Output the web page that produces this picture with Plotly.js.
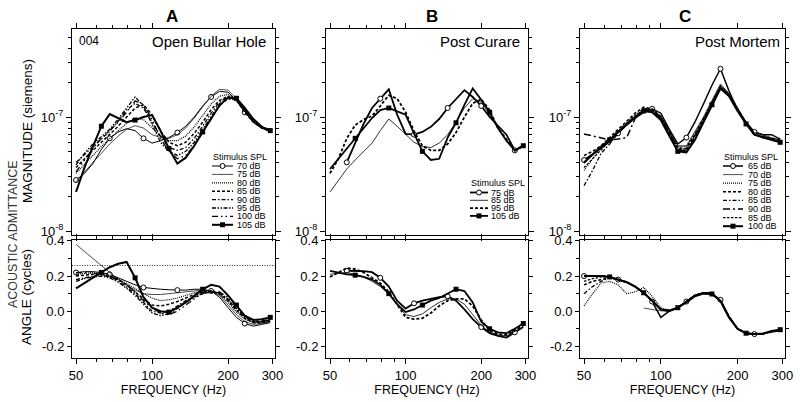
<!DOCTYPE html>
<html><head><meta charset="utf-8">
<script src="https://cdn.plot.ly/plotly-3.0.1.min.js"></script>
<style>html,body{margin:0;padding:0;background:#fff}#chart{width:800px;height:402px}</style>
</head><body><div id="chart"></div>
<script>
// ---------- shared axis data ----------
const freqHz = [50,54,58.3,63,68,73.5,79.3,85.7,92.5,100,108,116.6,126,136,147,158.7,171.4,185,200,216,233,252,272,294];
const xTickVals = [50,100,200,300];
const xTickText = ['50','100','200','300'];
const xMinorVals = [60,70,80,90];
const magTickVals = [1e-8,1e-7];
const magTickText = ['10<sup>-8</sup>','10<sup>-7</sup>'];
const magMinorVals = [2e-8,3e-8,4e-8,5e-8,6e-8,7e-8,8e-8,9e-8,2e-7,3e-7,4e-7,5e-7];
const angTickVals = [-0.2,0,0.2,0.4];
const angTickText = ['-0.2','0.0','0.2','0.4'];
const angMinorVals = [-0.1,0.1,0.3];
const refAngleA = 0.26;

// ---------- panel A : Open Bullar Hole ----------
const labelsA = ['70 dB','75 dB','80 dB','85 dB','90 dB','95 dB','100 dB','105 dB'];
const magA70  = [2.8e-8,3.2e-8,3.9e-8,5.2e-8,6.5e-8,7.4e-8,7.9e-8,7.6e-8,6.5e-8,5.9e-8,6.2e-8,6.6e-8,7.3e-8,8.3e-8,10.0e-8,12.5e-8,15.0e-8,16.8e-8,16.5e-8,14.0e-8,11.0e-8,9.0e-8,8.0e-8,7.6e-8];
const magA75  = [2.7e-8,3.3e-8,4.0e-8,4.8e-8,5.8e-8,6.8e-8,7.8e-8,8.4e-8,8.0e-8,7.0e-8,6.6e-8,6.5e-8,7.0e-8,8.0e-8,9.8e-8,12.3e-8,15.2e-8,17.5e-8,17.2e-8,14.5e-8,11.5e-8,9.3e-8,8.2e-8,7.8e-8];
const magA80  = [3.2e-8,3.8e-8,4.6e-8,5.5e-8,6.5e-8,7.6e-8,8.8e-8,9.8e-8,9.5e-8,8.0e-8,6.8e-8,6.2e-8,6.2e-8,6.8e-8,8.2e-8,10.3e-8,13.0e-8,15.2e-8,15.8e-8,14.0e-8,11.2e-8,9.2e-8,8.0e-8,7.7e-8];
const magA85  = [3.6e-8,4.3e-8,5.1e-8,6.0e-8,7.0e-8,8.3e-8,10.0e-8,12.0e-8,12.8e-8,10.5e-8,7.6e-8,6.0e-8,5.6e-8,6.0e-8,7.2e-8,9.0e-8,11.6e-8,14.0e-8,15.2e-8,14.0e-8,11.0e-8,9.0e-8,8.0e-8,7.6e-8];
const magA90  = [4.0e-8,4.7e-8,5.5e-8,6.4e-8,7.5e-8,9.2e-8,11.5e-8,13.2e-8,12.0e-8,9.0e-8,6.8e-8,5.4e-8,5.1e-8,5.4e-8,6.5e-8,8.3e-8,10.8e-8,13.5e-8,15.0e-8,14.2e-8,11.3e-8,9.0e-8,8.0e-8,7.5e-8];
const magA95  = [3.8e-8,4.8e-8,5.8e-8,6.8e-8,7.8e-8,9.6e-8,12.0e-8,15.0e-8,12.5e-8,8.5e-8,6.0e-8,5.0e-8,4.6e-8,5.0e-8,6.0e-8,7.8e-8,10.2e-8,13.0e-8,14.6e-8,14.0e-8,11.4e-8,9.2e-8,8.0e-8,7.5e-8];
const magA100 = [3.3e-8,4.2e-8,5.3e-8,6.5e-8,7.6e-8,9.0e-8,11.0e-8,13.8e-8,13.0e-8,9.5e-8,6.5e-8,5.0e-8,4.3e-8,4.6e-8,5.6e-8,7.4e-8,9.8e-8,12.6e-8,14.4e-8,14.2e-8,11.8e-8,9.5e-8,8.2e-8,7.7e-8];
const magA105 = [2.2e-8,3.6e-8,5.5e-8,8.3e-8,10.6e-8,9.8e-8,9.0e-8,9.4e-8,10.0e-8,10.4e-8,7.6e-8,5.3e-8,3.9e-8,4.4e-8,5.6e-8,7.4e-8,9.8e-8,12.6e-8,14.8e-8,14.6e-8,12.0e-8,9.6e-8,8.2e-8,7.6e-8];
const angA70  = [0.22,0.225,0.225,0.22,0.21,0.19,0.17,0.15,0.135,0.128,0.125,0.122,0.12,0.12,0.125,0.125,0.115,0.08,0.02,-0.035,-0.07,-0.085,-0.075,-0.065];
const angA75  = [0.38,0.34,0.30,0.26,0.22,0.18,0.15,0.12,0.10,0.095,0.095,0.10,0.105,0.11,0.115,0.12,0.115,0.09,0.035,-0.02,-0.06,-0.075,-0.07,-0.06];
const angA80  = [0.21,0.215,0.22,0.215,0.205,0.185,0.16,0.13,0.10,0.075,0.06,0.065,0.075,0.09,0.105,0.115,0.115,0.095,0.05,-0.005,-0.045,-0.065,-0.065,-0.055];
const angA85  = [0.20,0.205,0.21,0.21,0.20,0.18,0.15,0.11,0.07,0.035,0.03,0.04,0.055,0.075,0.095,0.11,0.115,0.10,0.06,0.005,-0.04,-0.065,-0.065,-0.055];
const angA90  = [0.18,0.19,0.20,0.205,0.195,0.175,0.14,0.10,0.05,0.0,-0.01,0.0,0.03,0.06,0.085,0.105,0.11,0.10,0.065,0.01,-0.035,-0.06,-0.06,-0.05];
const angA95  = [0.17,0.185,0.195,0.20,0.19,0.165,0.13,0.09,0.04,-0.01,-0.025,-0.015,0.015,0.05,0.08,0.10,0.11,0.105,0.07,0.015,-0.03,-0.06,-0.06,-0.05];
const angA100 = [0.22,0.22,0.215,0.21,0.20,0.18,0.15,0.11,0.06,0.02,-0.01,-0.02,0.0,0.035,0.07,0.10,0.115,0.11,0.08,0.025,-0.025,-0.055,-0.055,-0.045];
const angA105 = [0.13,0.16,0.19,0.22,0.25,0.27,0.28,0.19,0.08,0.02,0.0,-0.005,0.02,0.05,0.09,0.125,0.15,0.14,0.09,0.035,-0.025,-0.05,-0.045,-0.035];

// ---------- panel B : Post Curare ----------
const labelsB = ['75 dB','85 dB','95 dB','105 dB'];
const magB75  = [null,null,4.0e-8,6.0e-8,8.7e-8,12.0e-8,14.5e-8,17.5e-8,10.5e-8,7.1e-8,7.0e-8,7.4e-8,8.2e-8,9.6e-8,12.0e-8,14.5e-8,17.2e-8,15.0e-8,12.5e-8,10.0e-8,8.4e-8,7.0e-8,5.1e-8,5.6e-8];
const magB85  = [2.2e-8,2.8e-8,3.5e-8,4.2e-8,5.0e-8,5.9e-8,7.6e-8,9.6e-8,8.3e-8,7.0e-8,6.0e-8,5.5e-8,5.4e-8,5.9e-8,7.0e-8,9.0e-8,12.0e-8,14.5e-8,13.5e-8,10.5e-8,8.0e-8,6.2e-8,5.0e-8,5.5e-8];
const magB95  = [3.2e-8,4.3e-8,6.5e-8,8.5e-8,9.5e-8,10.2e-8,12.5e-8,15.5e-8,14.5e-8,11.0e-8,7.5e-8,5.6e-8,5.1e-8,5.1e-8,5.8e-8,7.3e-8,10.0e-8,13.2e-8,14.3e-8,11.5e-8,8.0e-8,6.4e-8,5.1e-8,5.6e-8];
const magB105 = [3.5e-8,4.3e-8,5.3e-8,6.5e-8,8.0e-8,9.8e-8,11.5e-8,12.0e-8,11.2e-8,10.5e-8,7.2e-8,5.0e-8,4.2e-8,4.3e-8,6.6e-8,8.9e-8,12.8e-8,17.8e-8,14.2e-8,11.0e-8,8.0e-8,6.2e-8,5.1e-8,5.6e-8];
const angB75  = [null,null,0.23,0.23,0.228,0.222,0.19,0.14,0.06,0.015,0.045,0.06,0.07,0.08,0.085,0.06,0.01,-0.045,-0.09,-0.125,-0.14,-0.15,-0.12,-0.09];
const angB85  = [0.21,0.215,0.22,0.21,0.195,0.17,0.14,0.10,0.04,-0.02,-0.03,-0.015,0.02,0.05,0.07,0.07,0.04,-0.02,-0.08,-0.12,-0.135,-0.14,-0.115,-0.09];
const angB95  = [0.195,0.22,0.245,0.24,0.22,0.19,0.16,0.11,0.04,-0.035,-0.045,-0.04,-0.01,0.03,0.06,0.07,0.07,0.03,-0.05,-0.11,-0.13,-0.135,-0.11,-0.08];
const angB105 = [0.23,0.22,0.21,0.205,0.195,0.18,0.15,0.10,0.04,-0.005,0.01,0.035,0.06,0.075,0.10,0.125,0.115,0.05,-0.06,-0.10,-0.12,-0.125,-0.10,-0.07];

// ---------- panel C : Post Mortem ----------
const labelsC = ['65 dB','70 dB','75 dB','80 dB','85 dB','90 dB','85 dB','100 dB'];
const magC65  = [4.2e-8,4.7e-8,5.3e-8,6.1e-8,7.2e-8,8.5e-8,9.8e-8,11.0e-8,11.8e-8,10.8e-8,7.8e-8,5.8e-8,6.6e-8,9.0e-8,13.0e-8,19.0e-8,26.5e-8,17.0e-8,11.5e-8,9.0e-8,7.4e-8,7.0e-8,7.0e-8,6.4e-8];
const magC70  = [3.9e-8,4.6e-8,5.4e-8,6.2e-8,7.3e-8,8.6e-8,10.0e-8,11.5e-8,11.5e-8,10.2e-8,7.6e-8,5.6e-8,5.6e-8,7.4e-8,10.0e-8,14.0e-8,19.5e-8,16.0e-8,11.8e-8,9.0e-8,7.3e-8,6.9e-8,6.6e-8,6.3e-8];
const magC75  = [3.4e-8,4.3e-8,5.4e-8,6.3e-8,7.6e-8,9.0e-8,10.4e-8,11.8e-8,11.6e-8,10.0e-8,7.4e-8,5.5e-8,5.5e-8,7.2e-8,9.8e-8,13.8e-8,19.0e-8,16.0e-8,11.8e-8,9.0e-8,7.2e-8,6.8e-8,6.5e-8,6.3e-8];
const magC80  = [4.6e-8,5.0e-8,5.6e-8,6.6e-8,7.9e-8,9.3e-8,10.8e-8,12.2e-8,11.8e-8,10.0e-8,7.2e-8,5.3e-8,5.3e-8,7.0e-8,9.6e-8,13.5e-8,18.5e-8,15.8e-8,11.6e-8,8.8e-8,7.0e-8,6.7e-8,6.4e-8,6.2e-8];
const magC85  = [2.5e-8,3.4e-8,4.8e-8,5.8e-8,7.2e-8,8.6e-8,10.0e-8,11.6e-8,11.2e-8,9.6e-8,7.0e-8,5.2e-8,5.1e-8,6.8e-8,9.4e-8,13.2e-8,18.3e-8,15.6e-8,11.5e-8,8.8e-8,7.0e-8,6.6e-8,6.3e-8,6.1e-8];
const magC90  = [7.1e-8,6.8e-8,6.5e-8,6.3e-8,6.4e-8,6.6e-8,9.7e-8,11.8e-8,11.5e-8,9.8e-8,7.2e-8,5.2e-8,5.0e-8,6.6e-8,9.2e-8,13.0e-8,18.0e-8,15.5e-8,11.5e-8,8.8e-8,7.0e-8,6.7e-8,6.4e-8,6.1e-8];
const magC95  = [3.6e-8,4.3e-8,5.2e-8,6.2e-8,7.4e-8,8.8e-8,10.2e-8,11.7e-8,11.6e-8,10.0e-8,7.3e-8,5.4e-8,5.2e-8,6.9e-8,9.5e-8,13.3e-8,18.4e-8,15.7e-8,11.6e-8,8.8e-8,7.0e-8,6.7e-8,6.4e-8,6.2e-8];
const magC100 = [4.0e-8,4.7e-8,5.5e-8,6.3e-8,7.4e-8,8.7e-8,10.0e-8,11.3e-8,11.0e-8,9.4e-8,6.8e-8,5.0e-8,4.9e-8,6.3e-8,9.0e-8,12.8e-8,17.8e-8,15.3e-8,11.3e-8,8.7e-8,7.0e-8,6.6e-8,6.3e-8,6.0e-8];
const angC65  = [0.2,0.2,0.2,0.195,0.18,0.165,0.14,0.105,0.055,-0.035,0.0,0.02,0.055,0.09,0.105,0.1,0.065,-0.03,-0.1,-0.125,-0.13,-0.128,-0.118,-0.11];
const angC70  = [null,null,null,null,null,null,null,0.018,0.01,0.002,0.0,0.02,0.055,0.09,0.105,0.1,0.06,-0.03,-0.1,-0.125,-0.13,-0.128,-0.115,-0.105];
const angC75  = [0.03,0.1,0.16,0.17,0.15,0.1,0.11,0.135,0.085,0.02,0.0,0.02,0.055,0.09,0.105,0.1,0.06,-0.03,-0.1,-0.125,-0.13,-0.128,-0.115,-0.105];
const angC80  = [0.15,0.17,0.18,0.19,0.18,0.165,0.14,0.105,0.06,0.01,0.0,0.02,0.055,0.09,0.105,0.1,0.06,-0.03,-0.1,-0.125,-0.13,-0.128,-0.115,-0.105];
const angC85  = [0.1,0.14,0.17,0.19,0.18,0.165,0.14,0.105,0.06,0.01,0.0,0.02,0.055,0.09,0.105,0.1,0.06,-0.03,-0.1,-0.125,-0.13,-0.128,-0.115,-0.105];
const angC90  = [0.2,0.2,0.2,0.195,0.18,0.165,0.14,0.105,0.06,0.01,0.0,0.02,0.055,0.09,0.105,0.1,0.06,-0.03,-0.1,-0.125,-0.13,-0.128,-0.115,-0.105];
const angC95  = [0.17,0.185,0.195,0.195,0.18,0.165,0.14,0.105,0.06,0.01,0.0,0.02,0.055,0.09,0.105,0.1,0.06,-0.03,-0.1,-0.125,-0.13,-0.128,-0.115,-0.105];
const angC100 = [0.2,0.2,0.2,0.195,0.18,0.165,0.14,0.105,0.06,0.01,0.005,0.02,0.05,0.085,0.1,0.098,0.058,-0.035,-0.1,-0.125,-0.13,-0.127,-0.113,-0.105];

// ---------- styles (not data) ----------
const FONT = 'Liberation Sans, Arial, Helvetica, sans-serif';
const W = 800, H = 402;
const px = v => v / W;          // pixel -> paper x
const py = v => 1 - v / H;      // pixel -> paper y

const styleA = [
  {w:1.0, dash:'solid', m:'circle'},
  {w:0.7, dash:'solid'},
  {w:1.2, dash:'1px,1px'},
  {w:1.5, dash:'3px,2px'},
  {w:1.3, dash:'4px,2px,1.5px,2px'},
  {w:1.3, dash:'4px,1.5px,1.5px,1.5px,1.5px,1.5px'},
  {w:1.3, dash:'6px,3px,1.5px,3px,1.5px,3px'},
  {w:2.0, dash:'solid', m:'square'}
];
const styleB = [
  {w:1.8, dash:'solid', m:'circle'},
  {w:0.8, dash:'solid'},
  {w:1.8, dash:'3px,2px'},
  {w:1.8, dash:'solid', m:'square'}
];
const styleC = [
  {w:1.5, dash:'solid', m:'circle'},
  {w:0.7, dash:'solid'},
  {w:1.2, dash:'1px,1px'},
  {w:1.5, dash:'3px,2px'},
  {w:1.3, dash:'4px,2px,1.5px,2px'},
  {w:1.5, dash:'7px,3px,2px,3px'},
  {w:1.2, dash:'2.5px,1.5px'},
  {w:2.0, dash:'solid', m:'square'}
];

const panels = [
  {letter:'A', lx:172, note:'Open Bullar Hole', nx:268, extra:'004',
   xs:[72,275], top:['x','y'], bot:['x2','y2'],
   labels:labelsA, styles:styleA,
   mags:[magA70,magA75,magA80,magA85,magA90,magA95,magA100,magA105],
   angs:[angA70,angA75,angA80,angA85,angA90,angA95,angA100,angA105],
   leg:{s0:212, s1:233, tx:235, ty:157, y0:166, dy:8.4}},
  {letter:'B', lx:432, note:'Post Curare', nx:522,
   xs:[326,528], top:['x3','y3'], bot:['x4','y4'],
   labels:labelsB, styles:styleB,
   mags:[magB75,magB85,magB95,magB105],
   angs:[angB75,angB85,angB95,angB105],
   leg:{s0:470, s1:488, tx:489, ty:183, y0:192.5, dy:7.8}},
  {letter:'C', lx:685, note:'Post Mortem', nx:782,
   xs:[580,785], top:['x5','y5'], bot:['x6','y6'],
   labels:labelsC, styles:styleC,
   mags:[magC65,magC70,magC75,magC80,magC85,magC90,magC95,magC100],
   angs:[angC65,angC70,angC75,angC80,angC85,angC90,angC95,angC100],
   leg:{s0:723, s1:743, tx:746, ty:157, y0:166, dy:8.6}}
];

function markerFor(st) {
  if (st.m === 'circle') return {symbol:'circle', size:5, color:'white', line:{color:'black', width:1}, maxdisplayed:6};
  if (st.m === 'square') return {symbol:'square', size:5, color:'black', line:{color:'black', width:0}, maxdisplayed:6};
  return undefined;
}
function trace(xs, ys, st, xa, ya) {
  const t = {type:'scatter', x:xs, y:ys, xaxis:xa, yaxis:ya,
    mode: st.m ? 'lines+markers' : 'lines',
    line:{color:'black', width:st.w, dash:st.dash},
    hoverinfo:'skip', showlegend:false, connectgaps:false};
  const mk = markerFor(st);
  if (mk) t.marker = mk;
  return t;
}

const data = [];
const shapes = [];
const annotations = [];
const layout = {
  width:W, height:H, margin:{l:0, r:0, t:0, b:0},
  paper_bgcolor:'white', plot_bgcolor:'white', showlegend:false,
  font:{family:FONT, color:'black', size:13}
};

const topDom = [py(235), py(29)];
const botDom = [py(358), py(240)];

function xAxis(dom, anchor, labels) {
  return {type:'log', domain:dom, anchor:anchor,
    range:[Math.log10(48.2), Math.log10(307)],
    showline:true, linecolor:'black', linewidth:1, mirror:'ticks',
    ticks:'outside', ticklen:5, tickwidth:1, tickcolor:'black',
    tickmode:'array', tickvals:xTickVals, ticktext:xTickText,
    minor:{tickmode:'array', tickvals:xMinorVals, ticks:'outside', ticklen:3, tickwidth:1, tickcolor:'black', showgrid:false},
    showgrid:false, zeroline:false, showticklabels:labels,
    tickfont:{family:FONT, size:13, color:'black'}, fixedrange:true};
}
function yMagAxis(anchor) {
  return {type:'log', domain:topDom, anchor:anchor, range:[-8.035, -6.228],
    showline:true, linecolor:'black', linewidth:1, mirror:'ticks',
    ticks:'outside', ticklen:5, tickwidth:1, tickcolor:'black',
    tickmode:'array', tickvals:magTickVals, ticktext:magTickText,
    minor:{tickmode:'array', tickvals:magMinorVals, ticks:'outside', ticklen:3, tickwidth:1, tickcolor:'black', showgrid:false},
    showgrid:false, zeroline:false,
    tickfont:{family:FONT, size:13, color:'black'}, fixedrange:true};
}
function yAngAxis(anchor) {
  return {type:'linear', domain:botDom, anchor:anchor, range:[-0.266, 0.405],
    showline:true, linecolor:'black', linewidth:1, mirror:'ticks',
    ticks:'outside', ticklen:4, tickwidth:1, tickcolor:'black',
    tickmode:'array', tickvals:angTickVals, ticktext:angTickText,
    minor:{tickmode:'array', tickvals:angMinorVals, ticks:'outside', ticklen:3, tickwidth:1, tickcolor:'black', showgrid:false},
    showgrid:false, zeroline:false,
    tickfont:{family:FONT, size:13, color:'black'}, fixedrange:true};
}
const axName = id => (id.length === 1 ? id + 'axis' : id[0] + 'axis' + id.slice(1));

panels.forEach(p => {
  const dom = [px(p.xs[0]), px(p.xs[1])];
  layout[axName(p.top[0])] = xAxis(dom, p.top[1], false);
  layout[axName(p.top[1])] = yMagAxis(p.top[0]);
  const xb = xAxis(dom, p.bot[1], true);
  xb.title = {text:'FREQUENCY (Hz)', font:{family:FONT, size:12.5, color:'black'}, standoff:2};
  layout[axName(p.bot[0])] = xb;
  layout[axName(p.bot[1])] = yAngAxis(p.bot[0]);

  p.mags.forEach((m, i) => data.push(trace(freqHz, m, p.styles[i], p.top[0], p.top[1])));
  p.angs.forEach((a, i) => data.push(trace(freqHz, a, p.styles[i], p.bot[0], p.bot[1])));

  // panel letter and condition label
  annotations.push({text:'<b>' + p.letter + '</b>', xref:'paper', yref:'paper', x:px(p.lx), y:py(16),
    xanchor:'center', yanchor:'middle', showarrow:false, font:{family:FONT, size:17, color:'black'}});
  annotations.push({text:p.note, xref:'paper', yref:'paper', x:px(p.nx), y:py(42),
    xanchor:'right', yanchor:'middle', showarrow:false, font:{family:FONT, size:15, color:'black'}});
  if (p.extra) annotations.push({text:p.extra, xref:'paper', yref:'paper', x:px(77), y:py(41),
    xanchor:'left', yanchor:'middle', showarrow:false, font:{family:FONT, size:12, color:'black'}});

  // legend block
  const L = p.leg;
  annotations.push({text:'Stimulus SPL', xref:'paper', yref:'paper', x:px(L.s0 - 1), y:py(L.ty),
    xanchor:'left', yanchor:'middle', showarrow:false, font:{family:FONT, size:9, color:'black'}});
  p.labels.forEach((lab, i) => {
    const yy = L.y0 + i * L.dy;
    const st = p.styles[i];
    shapes.push({type:'line', xref:'paper', yref:'paper', x0:px(L.s0), x1:px(L.s1), y0:py(yy), y1:py(yy),
      line:{color:'black', width:st.w, dash:st.dash}});
    const mid = (L.s0 + L.s1) / 2;
    if (st.m === 'circle') shapes.push({type:'circle', xref:'paper', yref:'paper',
      x0:px(mid - 2.5), x1:px(mid + 2.5), y0:py(yy + 2.5), y1:py(yy - 2.5),
      fillcolor:'white', line:{color:'black', width:1}});
    if (st.m === 'square') shapes.push({type:'rect', xref:'paper', yref:'paper',
      x0:px(mid - 2.5), x1:px(mid + 2.5), y0:py(yy + 2.5), y1:py(yy - 2.5),
      fillcolor:'black', line:{color:'black', width:0}});
    annotations.push({text:lab, xref:'paper', yref:'paper', x:px(L.tx), y:py(yy),
      xanchor:'left', yanchor:'middle', showarrow:false, font:{family:FONT, size:9, color:'black'}});
  });
});

// reference line in panel A angle plot
shapes.push({type:'line', xref:'x2 domain', x0:0, x1:1, yref:'y2', y0:refAngleA, y1:refAngleA,
  line:{color:'#333', width:1, dash:'1px,1.5px'}});

// shared y titles
annotations.push({text:'ACOUSTIC ADMITTANCE', xref:'paper', yref:'paper', x:px(13), y:py(234), textangle:-90,
  xanchor:'center', yanchor:'middle', showarrow:false, font:{family:FONT, size:12.5, color:'#333'}});
annotations.push({text:'MAGNITUDE (siemens)', xref:'paper', yref:'paper', x:px(27), y:py(131), textangle:-90,
  xanchor:'center', yanchor:'middle', showarrow:false, font:{family:FONT, size:13.5, color:'black'}});
annotations.push({text:'ANGLE (cycles)', xref:'paper', yref:'paper', x:px(26), y:py(297), textangle:-90,
  xanchor:'center', yanchor:'middle', showarrow:false, font:{family:FONT, size:13.5, color:'black'}});

layout.shapes = shapes;
layout.annotations = annotations;

Plotly.newPlot('chart', data, layout, {displayModeBar:false, staticPlot:true});
</script>
</body></html>
